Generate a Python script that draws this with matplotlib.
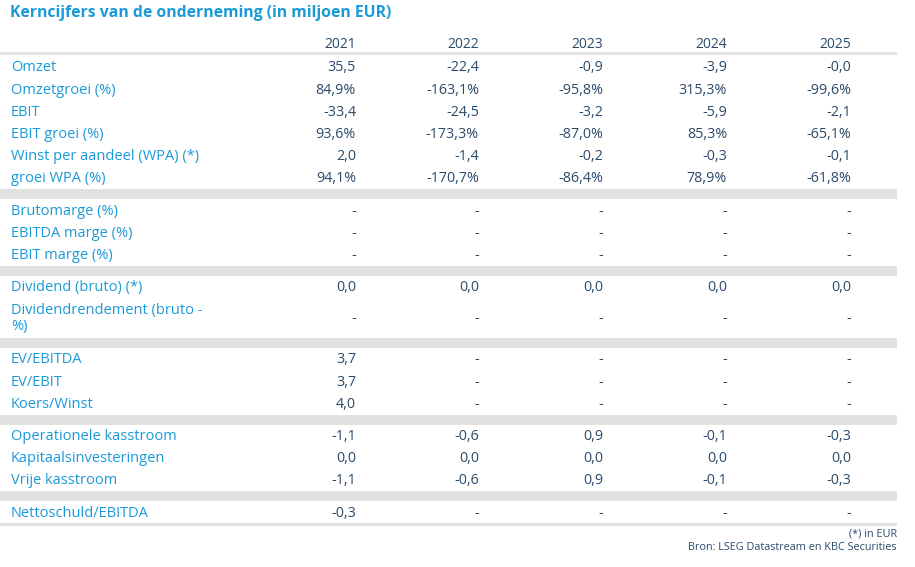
import matplotlib.pyplot as plt
from matplotlib.patches import Rectangle

# table contents
title = 'Kerncijfers van de onderneming (in miljoen EUR)'
years = ['2021', '2022', '2023', '2024', '2025']

groups = [
    [('Omzet', ['35,5', '-22,4', '-0,9', '-3,9', '-0,0']),
     ('Omzetgroei (%)', ['84,9%', '-163,1%', '-95,8%', '315,3%', '-99,6%']),
     ('EBIT', ['-33,4', '-24,5', '-3,2', '-5,9', '-2,1']),
     ('EBIT groei (%)', ['93,6%', '-173,3%', '-87,0%', '85,3%', '-65,1%']),
     ('Winst per aandeel (WPA) (*)', ['2,0', '-1,4', '-0,2', '-0,3', '-0,1']),
     ('groei WPA (%)', ['94,1%', '-170,7%', '-86,4%', '78,9%', '-61,8%'])],
    [('Brutomarge (%)', ['-', '-', '-', '-', '-']),
     ('EBITDA marge (%)', ['-', '-', '-', '-', '-']),
     ('EBIT marge (%)', ['-', '-', '-', '-', '-'])],
    [('Dividend (bruto) (*)', ['0,0', '0,0', '0,0', '0,0', '0,0']),
     ('Dividendrendement (bruto -\n%)', ['-', '-', '-', '-', '-'])],
    [('EV/EBITDA', ['3,7', '-', '-', '-', '-']),
     ('EV/EBIT', ['3,7', '-', '-', '-', '-']),
     ('Koers/Winst', ['4,0', '-', '-', '-', '-'])],
    [('Operationele kasstroom', ['-1,1', '-0,6', '0,9', '-0,1', '-0,3']),
     ('Kapitaalsinvesteringen', ['0,0', '0,0', '0,0', '0,0', '0,0']),
     ('Vrije kasstroom', ['-1,1', '-0,6', '0,9', '-0,1', '-0,3'])],
    [('Nettoschuld/EBITDA', ['-0,3', '-', '-', '-', '-'])],
]
notes = ['(*) in EUR', 'Bron: LSEG Datastream en KBC Securities']

blue = '#1a9ad8'
navy = '#2b4a6b'
band = '#e1e1e1'
font = 'Open Sans'

fig = plt.figure(figsize=(9.15, 5.67), dpi=100)
ax = fig.add_axes([0, 0, 1, 1])
ax.set_xlim(0, 915)
ax.set_ylim(567, 0)
ax.axis('off')

col_x = [356, 479, 603, 727, 851]
right = 897

ax.text(10, 13, title, color=blue, fontsize=11.3, fontweight='bold',
        family=font, va='center', ha='left')

for x, yr in zip(col_x, years):
    ax.text(x, 44, yr, color=navy, fontsize=10, family=font, va='center', ha='right')
ax.add_patch(Rectangle((0, 52), right, 3, color=band, lw=0))

y = 56
row_h = 22.2
for gi, rows in enumerate(groups):
    for label, vals in rows:
        h = row_h * 1.8 if '\n' in label else row_h
        yc = y + h / 2 + 0.8
        ax.text(11, yc, label, color=blue, fontsize=10.5, family=font,
                va='center', ha='left', linespacing=1.1)
        for x, v in zip(col_x, vals):
            ax.text(x, yc, v, color=navy, fontsize=10.3, family=font,
                    va='center', ha='right')
        y += h
    if gi < len(groups) - 1:
        ax.add_patch(Rectangle((0, y), right, 10, color=band, lw=0))
        y += 10
ax.add_patch(Rectangle((0, y), right, 2.5, color=band, lw=0))

ax.text(right, 534, notes[0], color=navy, fontsize=7.8, family=font, va='center', ha='right')
ax.text(right, 548, notes[1], color=navy, fontsize=7.8, family=font, va='center', ha='right')

fig.savefig('out.png', dpi=100)
